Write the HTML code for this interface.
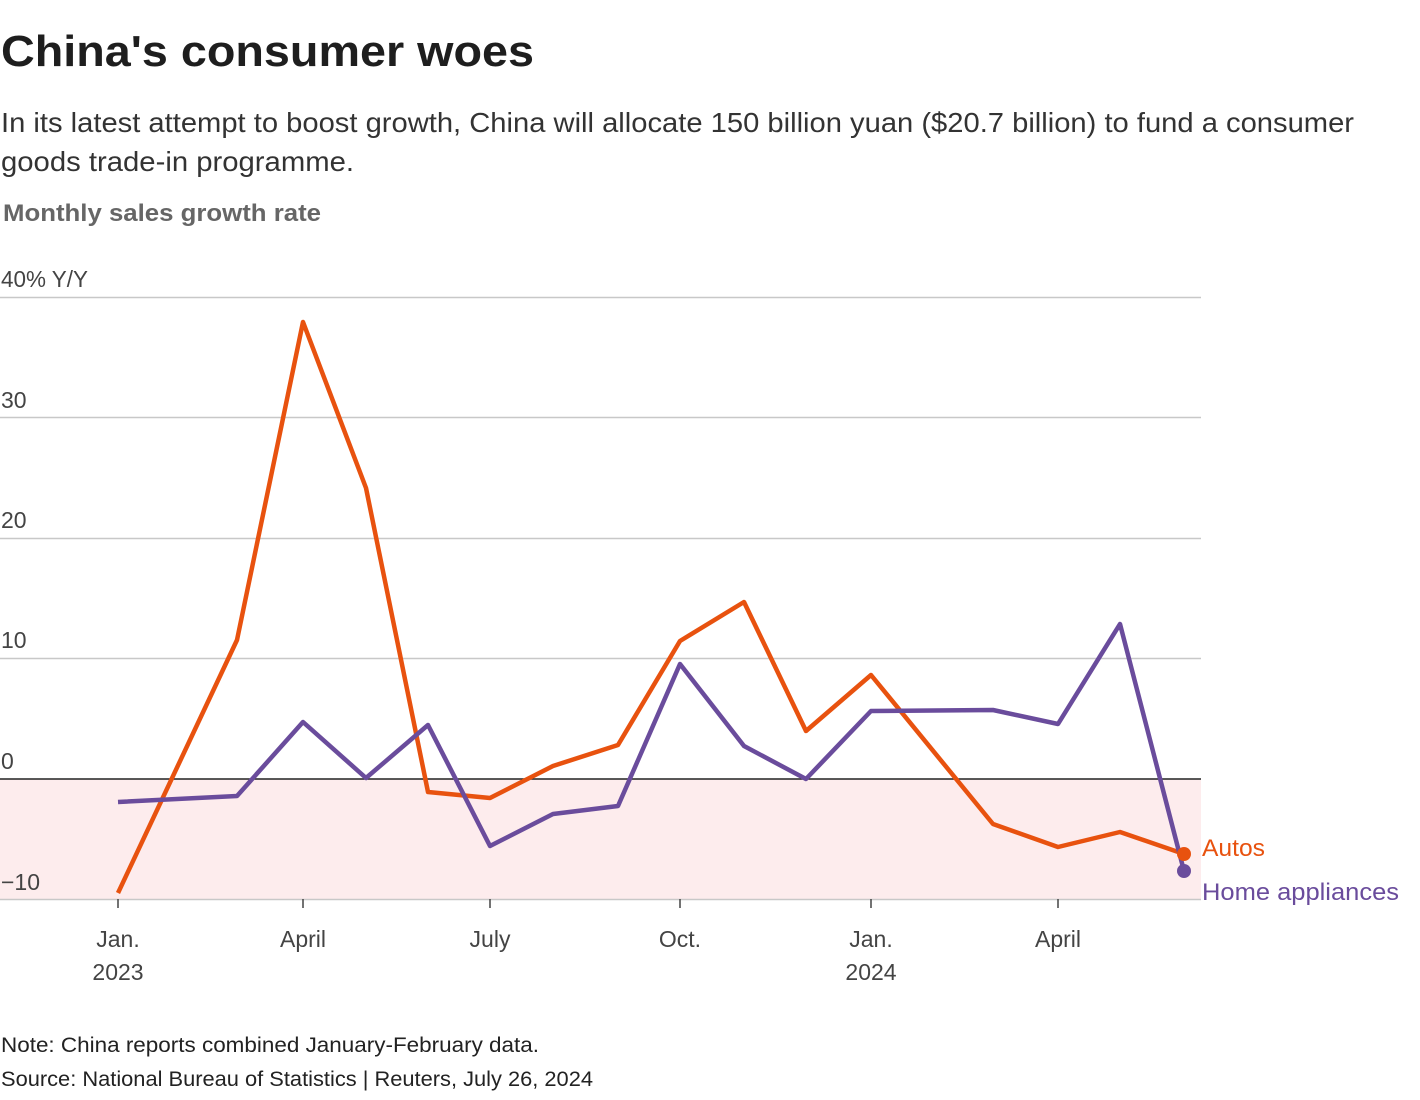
<!DOCTYPE html>
<html><head><meta charset="utf-8"><style>
html,body{margin:0;padding:0;background:#fff;}
svg{display:block;font-family:"Liberation Sans",sans-serif;}
</style></head><body>
<svg width="1420" height="1100" viewBox="0 0 1420 1100" xmlns="http://www.w3.org/2000/svg">
<text x="1" y="66" font-size="44" font-weight="bold" fill="#1e1e1e" textLength="533" lengthAdjust="spacingAndGlyphs">China's consumer woes</text>
<text x="1" y="132" font-size="28" fill="#333" textLength="1353" lengthAdjust="spacingAndGlyphs">In its latest attempt to boost growth, China will allocate 150 billion yuan ($20.7 billion) to fund a consumer</text>
<text x="1" y="171" font-size="28" fill="#333" textLength="353" lengthAdjust="spacingAndGlyphs">goods trade-in programme.</text>
<text x="3" y="221" font-size="24" font-weight="bold" fill="#666" textLength="318" lengthAdjust="spacingAndGlyphs">Monthly sales growth rate</text>

<rect x="0" y="779" width="1201" height="120" fill="#fdeced"/>
<g stroke="#c8c8c8" stroke-width="1.5">
<line x1="0" y1="297.5" x2="1201" y2="297.5"/>
<line x1="0" y1="417.5" x2="1201" y2="417.5"/>
<line x1="0" y1="538.5" x2="1201" y2="538.5"/>
<line x1="0" y1="658.5" x2="1201" y2="658.5"/>
<line x1="0" y1="899.5" x2="1201" y2="899.5"/>
</g>
<line x1="0" y1="779" x2="1201" y2="779" stroke="#222" stroke-width="1.5"/>
<g font-size="23" fill="#444">
<text x="1" y="287" textLength="87" lengthAdjust="spacingAndGlyphs">40% Y/Y</text>
<text x="1" y="408">30</text>
<text x="1" y="528">20</text>
<text x="1" y="648">10</text>
<text x="1" y="769">0</text>
<text x="1" y="890">−10</text>
</g>
<g stroke="#444" stroke-width="1.5">
<line x1="118" y1="899" x2="118" y2="908"/><line x1="303" y1="899" x2="303" y2="908"/>
<line x1="490" y1="899" x2="490" y2="908"/><line x1="680" y1="899" x2="680" y2="908"/>
<line x1="871" y1="899" x2="871" y2="908"/><line x1="1058" y1="899" x2="1058" y2="908"/>
</g>
<g font-size="23" fill="#444" text-anchor="middle">
<text x="118" y="947">Jan.</text><text x="118" y="980">2023</text>
<text x="303" y="947">April</text><text x="490" y="947">July</text>
<text x="680" y="947">Oct.</text>
<text x="871" y="947">Jan.</text><text x="871" y="980">2024</text>
<text x="1058" y="947">April</text>
</g>
<polyline fill="none" stroke="#e8520f" stroke-width="4.5" stroke-linejoin="round" points="118,893 237,640 303,322 366,488 428,792 490,798 553,766 618,745 680,641 744,602 806,731 871,675 993,824 1058,847 1120,832 1184,854"/>
<polyline fill="none" stroke="#6a4c9c" stroke-width="4.5" stroke-linejoin="round" points="118,802 237,796 303,722 366,778 428,725 490,846 553,814 618,806 680,664 744,746 806,779 871,711 993,710 1058,724 1120,624 1184,871"/>
<circle cx="1184" cy="854" r="7" fill="#e8520f"/>
<circle cx="1184" cy="871" r="7" fill="#6a4c9c"/>
<text x="1202" y="856" font-size="24" fill="#e8520f" textLength="63" lengthAdjust="spacingAndGlyphs">Autos</text>
<text x="1202" y="900" font-size="24" fill="#6a4c9c" textLength="197" lengthAdjust="spacingAndGlyphs">Home appliances</text>
<text x="1" y="1052" font-size="21" fill="#222" textLength="538" lengthAdjust="spacingAndGlyphs">Note: China reports combined January-February data.</text>
<text x="1" y="1086" font-size="21" fill="#222" textLength="592" lengthAdjust="spacingAndGlyphs">Source: National Bureau of Statistics | Reuters, July 26, 2024</text>
</svg>
</body></html>
